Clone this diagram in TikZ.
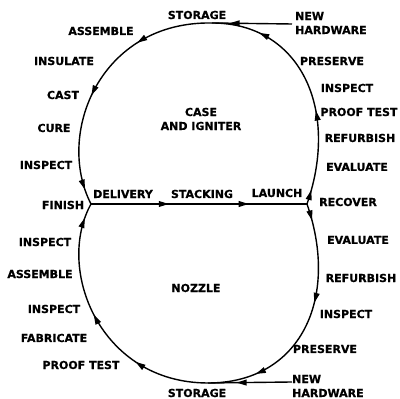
\documentclass[tikz,border=0pt]{standalone}
\usepackage{fontspec}
\setmainfont{DejaVu Sans}[BoldFeatures={FakeBold=0.6}]
\usetikzlibrary{arrows.meta,decorations.markings}

\begin{document}
\begin{tikzpicture}[
  x=1pt, y=1pt,
  font=\bfseries\fontsize{11}{14}\selectfont,
  >={Triangle[length=10pt,width=5.8pt]},
  flow/.style={line width=1.4pt},
  arr/.style={postaction={decorate, decoration={markings,
      mark=at position #1 with {\arrow{>}}}}},
  lbl/.style={inner sep=0pt},
]
\useasboundingbox (0,0) rectangle (400,399);

% ── junctions and storage points ──
\coordinate (fin)    at (91,195);
\coordinate (lau)    at (307,195);
\coordinate (topst)  at (212,376);
\coordinate (botst)  at (208,16);
\coordinate (nhtop)  at (292,375);
\coordinate (nhbot)  at (292,17);

% ── case and igniter loop ──
\draw[flow, arr=0.06, arr=0.39, arr=0.8]
  (lau) .. controls (340,290) and (300,376) .. (topst);
\draw[flow, arr=0.3, arr=0.57, arr=0.94]
  (topst) .. controls (100,378) and (55,265) .. (fin);
\draw[flow, arr=0.78] (nhtop) -- (topst);

% ── nozzle loop ──
\draw[flow, arr=0.07, arr=0.41, arr=0.8]
  (lau) .. controls (340,100) and (300,16) .. (botst);
\draw[flow, arr=0.3, arr=0.55, arr=0.94]
  (botst) .. controls (100,16) and (55,130) .. (fin);
\draw[flow, arr=0.66] (nhbot) -- (botst);

% ── delivery line ──
\draw[flow, arr=0.36, arr=0.73] (fin) -- (lau);

% ── labels, upper loop ──
\node[lbl] (st1)   at (197,384) {STORAGE};
\node[lbl, anchor=west, align=left] (nh1) at (295,376) {NEW\\HARDWARE};
\node[lbl] (asm1)  at (101,368) {ASSEMBLE};
\node[lbl] (ins)   at (64,338)  {INSULATE};
\node[lbl] (cast)  at (63,304)  {CAST};
\node[lbl] (cure)  at (54,271)  {CURE};
\node[lbl] (insp1) at (46,234)  {INSPECT};
\node[lbl, align=center] (case) at (201,280) {CASE\\AND IGNITER};
\node[lbl] (pres1) at (332,338) {PRESERVE};
\node[lbl] (insp2) at (347,311) {INSPECT};
\node[lbl] (pt1)   at (359,287) {PROOF TEST};
\node[lbl] (ref1)  at (360,261) {REFURBISH};
\node[lbl] (eval1) at (357,232) {EVALUATE};

% ── labels, middle ──
\node[lbl] (finish) at (63,194)  {FINISH};
\node[lbl] (deliv)  at (123,205) {DELIVERY};
\node[lbl] (stack)  at (202,205) {STACKING};
\node[lbl] (launch) at (277,206) {LAUNCH};
\node[lbl] (recov)  at (348,197) {RECOVER};

% ── labels, lower loop ──
\node[lbl] (eval2) at (358,159) {EVALUATE};
\node[lbl] (ref2)  at (361,121) {REFURBISH};
\node[lbl] (insp3) at (346,85)  {INSPECT};
\node[lbl] (pres2) at (325,50)  {PRESERVE};
\node[lbl, anchor=west, align=left] (nh2) at (292,13) {NEW\\HARDWARE};
\node[lbl] (st2)   at (197,6)   {STORAGE};
\node[lbl] (nozz)  at (196,111) {NOZZLE};
\node[lbl] (pt2)   at (81,34)   {PROOF TEST};
\node[lbl] (fab)   at (54,61)   {FABRICATE};
\node[lbl] (insp4) at (54,90)   {INSPECT};
\node[lbl] (asm2)  at (40,125)  {ASSEMBLE};
\node[lbl] (insp5) at (45,157)  {INSPECT};

\end{tikzpicture}
\end{document}
